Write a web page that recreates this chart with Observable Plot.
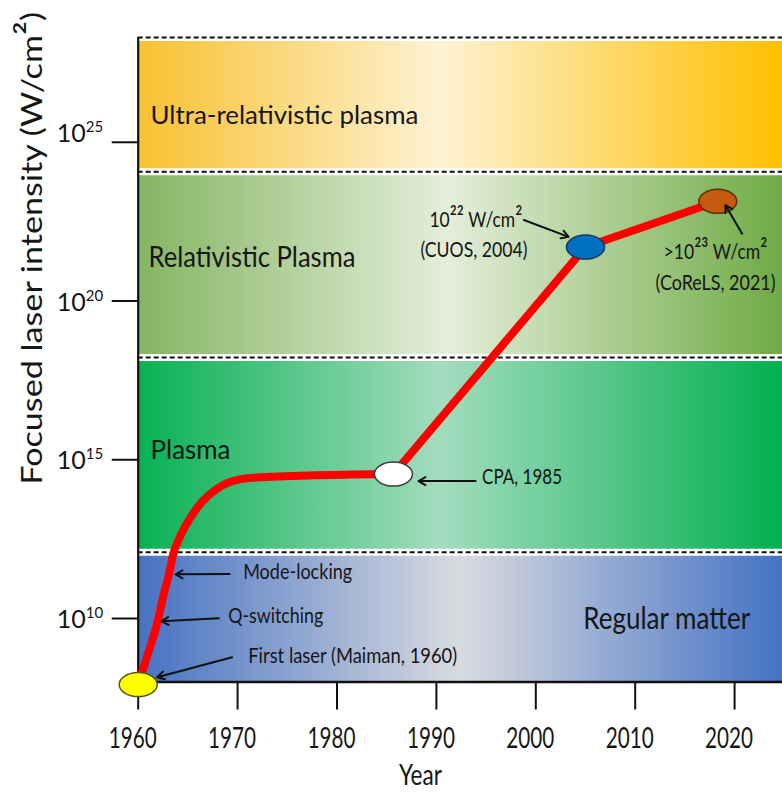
<!DOCTYPE html>
<html><head><meta charset="utf-8">
<script src="https://cdn.jsdelivr.net/npm/d3@7"></script>
<script src="https://cdn.jsdelivr.net/npm/@observablehq/plot@0.6"></script>
<style>body{margin:0;background:#fff;} svg{display:block;}</style>
</head><body><div id="chart"></div>
<script>
// ---------------- DATA ----------------
const xTicks = [1960, 1970, 1980, 1990, 2000, 2010, 2020];
const yTickExps = [10, 15, 20, 25];
const xDomain = [1960, 2024.82];
const yDomainExps = [8, 28.3];

const bandNames = ["Regular matter", "Plasma", "Relativistic Plasma", "Ultra-relativistic plasma"];
const bandEdgeExps = [8, 12.09, 18.22, 24.07, 28.3];
const bandLabelYears = [2004.77, 1961.24, 1961.04, 1961.24];
const bandLabelExps = [9.655, 15.02, 21.07, 25.59];

const curveYears = [1960, 1960.94, 1961.94, 1962.55, 1963.1, 1963.5, 1964.1, 1965.3, 1966.5, 1967.9, 1969.0, 1970.2, 1972.3, 1985.68];
const curveExps  = [7.95, 8.85, 9.89, 10.74, 11.40, 12.0, 12.50, 13.2, 13.7, 14.08, 14.27, 14.38, 14.45, 14.55];

const milestoneNames = ["First laser", "CPA", "CUOS", "CoReLS"];
const milestoneYears = [1960, 1985.68, 2005.0, 2018.31];
const milestoneExps  = [7.92, 14.55, 21.70, 23.14];

const noteTexts = ["Mode-locking", "Q-switching", "First laser (Maiman, 1960)", "CPA, 1985",
                   "10²² W/cm²", "(CUOS, 2004)", ">10²³ W/cm²", "(CoReLS, 2021)"];
const noteYears = [1970.56, 1969.05, 1971.07, 1994.6, 1989.3, 1988.4, 2012.85, 2012.05];
const noteExps  = [11.24, 9.85, 8.593, 14.244, 22.33, 21.39, 21.33, 20.35];

const arrowFromYears = [1969.2, 1968.11, 1969.46, 1993.94, 1998.8, 2020.76];
const arrowFromExps  = [11.40, 10.01, 8.78, 14.33, 22.55, 22.12];
const arrowToYears   = [1963.76, 1962.34, 1961.91, 1988.2, 2003.3, 2019.08];
const arrowToExps    = [11.39, 9.91, 8.15, 14.33, 22.02, 23.02];

const yTitle = "Focused laser intensity (W/cm²)";
const xTitle = "Year";

// ---------------- STYLES ----------------
const bandGradients = [
  [[0, "#4672C2"], [0.5, "#D9DADF"], [1, "#4472C4"]],
  [[0, "#07B153"], [0.47, "#A4DCBE"], [1, "#00B050"]],
  [[0, "#85B562"], [0.48, "#E4EEDA"], [1, "#6FAB45"]],
  [[0, "#F7C131"], [0.47, "#FEF2D2"], [1, "#FFBF00"]]
];
const bandFontSizes = [30, 26, 29, 25];
const noteFontSizes = [22, 22, 22, 22, 21, 21, 21, 21];
const markerFills = ["#FFFF00", "#FFFFFF", "#0070C0", "#C55A11"];
const markerStrokes = ["#55551f", "#3a3a3a", "#17375e", "#5e2d0a"];
const textColor = "#161616";

const fitWidths = new Map([
  ["Ultra-relativistic plasma", 268], ["Relativistic Plasma", 207], ["Plasma", 80], ["Regular matter", 167],
  ["Mode-locking", 109], ["Q-switching", 95], ["First laser (Maiman, 1960)", 209], ["CPA, 1985", 80],
  ["10²² W/cm²", 93], ["(CUOS, 2004)", 107], [">10²³ W/cm²", 104], ["(CoReLS, 2021)", 120],
  ["Year", 43], [yTitle, 473]
]);
xTicks.forEach(t => fitWidths.set(String(t), 48));

// ellipse symbol
const ellipseSymbol = {
  draw(ctx) {
    const rx = 19, ry = 12, k = 0.5523;
    ctx.moveTo(rx, 0);
    ctx.bezierCurveTo(rx, ry * k, rx * k, ry, 0, ry);
    ctx.bezierCurveTo(-rx * k, ry, -rx, ry * k, -rx, 0);
    ctx.bezierCurveTo(-rx, -ry * k, -rx * k, -ry, 0, -ry);
    ctx.bezierCurveTo(rx * k, -ry, rx, -ry * k, rx, 0);
    ctx.closePath();
  }
};

const pow = e => Math.pow(10, e);
const W = 782, H = 793, mL = 137.7, mR = 0, mT = 37, mB = 111.5;
const frameH = H - mT - mB, frameW = W - mL - mR;

const curve = curveYears.map((x, i) => ({x, y: pow(curveExps[i])}));
const straight = milestoneYears.slice(1).map((x, i) => ({x, y: pow(milestoneExps[i + 1])}));
const arrows = arrowFromYears.map((x, i) => ({x1: x, y1: pow(arrowFromExps[i]), x2: arrowToYears[i], y2: pow(arrowToExps[i])}));

const marks = [];
// bands
bandNames.forEach((name, i) => {
  marks.push(Plot.rect([name], {
    x1: () => xDomain[0], x2: () => xDomain[1],
    y1: () => pow(bandEdgeExps[i]), y2: () => pow(bandEdgeExps[i + 1]),
    fill: `url(#band${i})`
  }));
});
const boundaries = bandEdgeExps.slice(1).map(pow);
marks.push(Plot.ruleY(boundaries, {stroke: "white", strokeWidth: 7}));
marks.push(Plot.ruleY(boundaries, {stroke: "#111", strokeWidth: 2, strokeDasharray: "5,3"}));
// axes
marks.push(Plot.ruleX([xDomain[0]], {stroke: "#111", strokeWidth: 2.2}));
marks.push(Plot.ruleY([pow(yDomainExps[0])], {stroke: "#111", strokeWidth: 2.6}));
marks.push(Plot.ruleX(xTicks, {stroke: "#111", strokeWidth: 2, insetTop: frameH, insetBottom: -28}));
marks.push(Plot.ruleY(yTickExps.map(pow), {stroke: "#111", strokeWidth: 2, insetLeft: -26, insetRight: frameW}));
// x tick labels
marks.push(Plot.text(xTicks, {x: d => d, y: () => pow(yDomainExps[0]), text: d => String(d), dy: 66, dx: -5.5,
  lineAnchor: "bottom", textAnchor: "middle", fontSize: 28, fill: textColor}));
marks.push(Plot.text([xTitle], {x: () => 1988.4, y: () => pow(yDomainExps[0]), text: d => d, dy: 103,
  lineAnchor: "bottom", textAnchor: "middle", fontSize: 29, fill: textColor}));
// y tick labels (10 + superscript exponent)
const upper = yTickExps.filter(e => e >= 25), lower = yTickExps.filter(e => e < 25);
[[upper, 0], [lower, 9.5]].forEach(([arr, off]) => {
  marks.push(Plot.text(arr, {x: () => xDomain[0], y: d => pow(d), text: () => "10", dx: -52.5, dy: off,
    lineAnchor: "bottom", textAnchor: "end", fontSize: 25, fill: textColor}));
  marks.push(Plot.text(arr, {x: () => xDomain[0], y: d => pow(d), text: d => String(d), dx: -52.5, dy: off - 10,
    lineAnchor: "bottom", textAnchor: "start", fontSize: 15, fill: textColor}));
});
// y title
marks.push(Plot.text([yTitle], {x: () => 1950.34, y: () => pow(21.66), text: d => d, rotate: -90,
  textAnchor: "middle", lineAnchor: "bottom", fontSize: 28, fill: textColor}));
// red path
marks.push(Plot.line(curve, {x: "x", y: "y", curve: "monotone-x", stroke: "#FF0000", strokeWidth: 8}));
marks.push(Plot.line(straight, {x: "x", y: "y", stroke: "#FF0000", strokeWidth: 8}));
// milestones
milestoneNames.forEach((n, i) => {
  marks.push(Plot.dot([n], {x: () => milestoneYears[i], y: () => pow(milestoneExps[i]), symbol: ellipseSymbol,
    r: 10, fill: markerFills[i], stroke: markerStrokes[i], strokeWidth: 1.5}));
});
// arrows
marks.push(Plot.arrow(arrows, {x1: "x1", y1: "y1", x2: "x2", y2: "y2", stroke: "#111", strokeWidth: 2, headLength: 6}));
// band labels
bandNames.forEach((n, i) => {
  marks.push(Plot.text([n], {x: () => bandLabelYears[i], y: () => pow(bandLabelExps[i]), text: d => d,
    textAnchor: "start", lineAnchor: "bottom", fontSize: bandFontSizes[i], fill: textColor}));
});
// notes
noteTexts.forEach((n, i) => {
  marks.push(Plot.text([n], {x: () => noteYears[i], y: () => pow(noteExps[i]), text: d => d,
    textAnchor: "start", lineAnchor: "bottom", fontSize: noteFontSizes[i], fill: textColor}));
});

const chart = Plot.plot({
  width: W, height: H,
  marginLeft: mL, marginRight: mR, marginTop: mT, marginBottom: mB,
  x: {domain: xDomain, axis: null},
  y: {type: "log", domain: yDomainExps.map(pow), axis: null},
  style: {fontFamily: "Lato, 'Open Sans', sans-serif", background: "white", overflow: "visible"},
  marks
});
document.getElementById("chart").append(chart);

// gradients
const defs = d3.select(chart).insert("defs", ":first-child");
bandGradients.forEach((stops, i) => {
  const g = defs.append("linearGradient").attr("id", `band${i}`)
    .attr("x1", 0).attr("x2", 1).attr("y1", 0).attr("y2", 0);
  stops.forEach(([o, c]) => g.append("stop").attr("offset", o).attr("stop-color", c));
});

// enlarge superscript glyphs and fit text widths to the reference
const SVGNS = "http://www.w3.org/2000/svg";
chart.querySelectorAll("text").forEach(t => {
  const original = t.textContent;
  const target = fitWidths.get(original);
  if (!target) return;
  if (/[²³]/.test(original) && t.children.length === 0) {
    t.textContent = "";
    original.split(/([²³]+)/).filter(s => s).forEach(run => {
      const ts = document.createElementNS(SVGNS, "tspan");
      ts.textContent = run;
      if (/[²³]/.test(run)) ts.setAttribute("font-size", "1.22em");
      t.appendChild(ts);
    });
  }
  const len = t.getComputedTextLength();
  if (!len) return;
  const k = target / len;
  const x = +(t.getAttribute("x") || 0);
  const tr = t.getAttribute("transform") || "";
  t.setAttribute("transform", `${tr} translate(${x},0) scale(${k},1) translate(${-x},0)`);
});
</script>
</body></html>
